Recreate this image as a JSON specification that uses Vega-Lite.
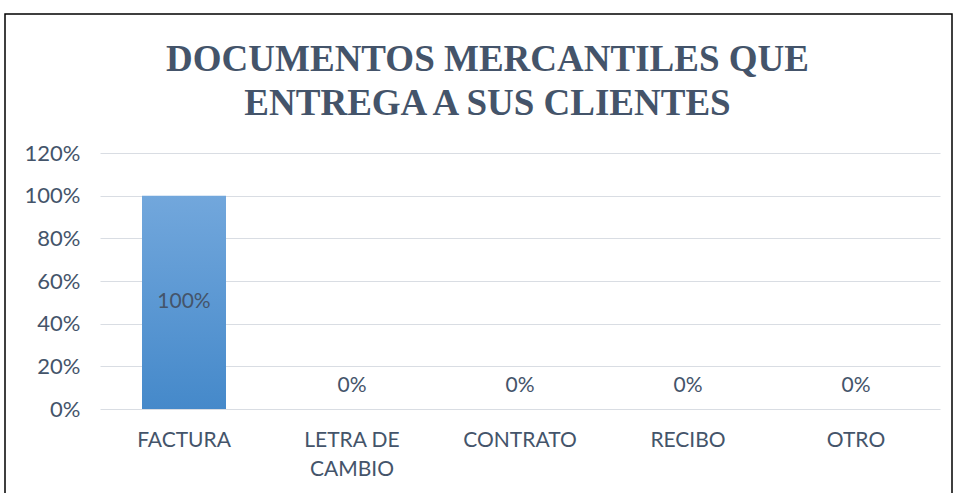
{
  "$schema": "https://vega.github.io/schema/vega-lite/v6.json",
  "width": 947,
  "height": 480,
  "autosize": {"type": "none"},
  "padding": {"left": 5, "top": 14, "right": 5, "bottom": 0},
  "background": "white",
  "config": {"view": {"stroke": "#000000", "strokeWidth": 1.5}, "font": "Lato"},
  "title": {
    "text": ["DOCUMENTOS MERCANTILES QUE", "ENTREGA A SUS CLIENTES"],
    "font": "Liberation Serif",
    "fontSize": 37,
    "fontWeight": "bold",
    "color": "#44546A",
    "anchor": "middle",
    "frame": "group",
    "baseline": "alphabetic",
    "offset": -138,
    "dx": 9,
    "lineHeight": 44
  },
  "data": {
    "values": [
      {"doc": "FACTURA", "value": 1},
      {"doc": "LETRA DE CAMBIO", "value": 0},
      {"doc": "CONTRATO", "value": 0},
      {"doc": "RECIBO", "value": 0},
      {"doc": "OTRO", "value": 0}
    ]
  },
  "encoding": {
    "x": {
      "field": "doc",
      "type": "nominal",
      "sort": null,
      "scale": {"range": [95, 935], "paddingInner": 0.5, "paddingOuter": 0.25},
      "axis": {
        "title": null,
        "domain": false,
        "ticks": false,
        "labelAngle": 0,
        "labelFont": "Lato",
        "labelFontSize": 21,
        "labelColor": "#44546A",
        "labelPadding": 20,
        "labelBaseline": "top",
        "labelLineHeight": 29,
        "offset": -85,
        "labelExpr": "datum.label == 'LETRA DE CAMBIO' ? ['LETRA DE', 'CAMBIO'] : datum.label"
      }
    }
  },
  "layer": [
    {
      "mark": {
        "type": "bar",
        "color": {
          "gradient": "linear",
          "x1": 0, "y1": 0, "x2": 0, "y2": 1,
          "stops": [
            {"offset": 0, "color": "#72A7DC"},
            {"offset": 1, "color": "#4589CA"}
          ]
        }
      },
      "encoding": {
        "y": {
          "field": "value",
          "type": "quantitative",
          "scale": {"domain": [0, 1.2], "range": [395, 139], "nice": false},
          "axis": {
            "title": null,
            "domain": false,
            "ticks": false,
            "values": [0, 0.2, 0.4, 0.6, 0.8, 1, 1.2],
            "format": ".0%",
            "grid": true,
            "gridColor": "#D9DDE3",
            "gridWidth": 1,
            "labelFont": "Lato",
            "labelFontSize": 22,
            "labelColor": "#44546A",
            "offset": -80,
            "labelPadding": 5
          }
        }
      }
    },
    {
      "transform": [{"filter": "datum.value > 0"}, {"calculate": "datum.value / 2", "as": "mid"}],
      "mark": {"type": "text", "font": "Lato", "fontSize": 21, "color": "#44546A", "baseline": "middle"},
      "encoding": {
        "y": {"field": "mid", "type": "quantitative"},
        "text": {"field": "value", "type": "quantitative", "format": ".0%"}
      }
    },
    {
      "transform": [{"filter": "datum.value == 0"}],
      "mark": {"type": "text", "font": "Lato", "fontSize": 21, "color": "#44546A", "baseline": "middle", "dy": -23},
      "encoding": {
        "y": {"field": "value", "type": "quantitative"},
        "text": {"field": "value", "type": "quantitative", "format": ".0%"}
      }
    }
  ]
}
